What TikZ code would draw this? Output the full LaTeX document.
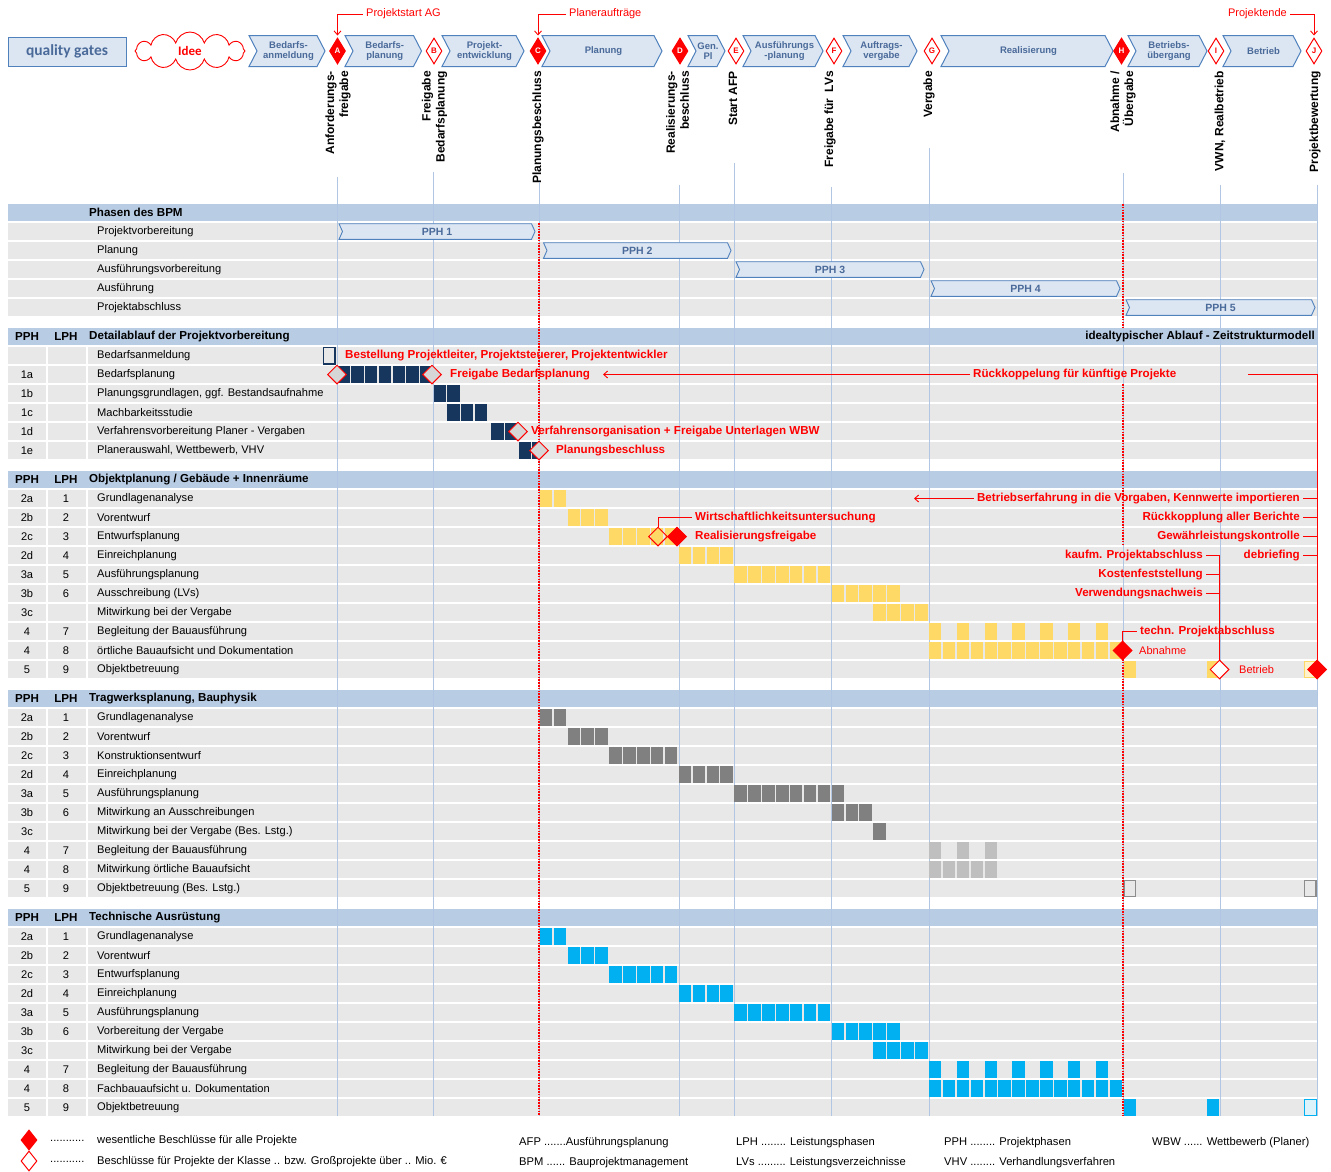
\documentclass[tikz,border=0pt]{standalone}
\usepackage{fontspec}
\setmainfont{Liberation Sans}
\newfontfamily\carl{Carlito}
\usetikzlibrary{shapes.geometric,shapes.symbols,arrows.meta}
\definecolor{rowbg}{HTML}{E8E8E8}
\definecolor{hdrbg}{HTML}{B8CCE4}
\definecolor{gridc}{HTML}{B0C6E2}
\definecolor{navy}{HTML}{17365D}
\definecolor{ylw}{HTML}{FFD966}
\definecolor{ylwl}{HTML}{FFF2CC}
\definecolor{dgray}{HTML}{808080}
\definecolor{lgray}{HTML}{BFBFBF}
\definecolor{bgray}{HTML}{8C8C8C}
\definecolor{cyanb}{HTML}{00B0F0}
\definecolor{cyanl}{HTML}{DDF3FC}
\definecolor{chevfill}{HTML}{DCE6F2}
\definecolor{chevline}{HTML}{4F81BD}
\definecolor{chevtext}{HTML}{4A6A9A}
\definecolor{redc}{HTML}{FF0000}
\definecolor{dgfill}{HTML}{D6D6D6}
\newcommand\Sq[3]{\fill[#1] ({539+#2*13.9+0.7},{#3-8.5}) rectangle ({539+#2*13.9+13.2},{#3+8.5});}
\newcommand\Nv[2]{\fill[navy] ({#1+0.7},{#2-8.5}) rectangle ({#1+13},{#2+8.5});}
\newcommand\Chev[4]{%
  \draw[chevline, fill=chevfill, line width=1pt] (#1,35.5) -- ({#2-8},35.5) -- (#2,51) -- ({#2-8},66.5) -- (#1,66.5) -- ({#1+8},51) -- cycle;
  \node[chevt] (#4) at ({(#1+#2)/2+1.5},51) {#3};}
\newcommand\PChev[5]{%
  \draw[chevline, fill=chevfill, line width=0.9pt] (#1,{#3-7.8}) -- ({#2-3.5},{#3-7.8}) -- (#2,#3) -- ({#2-3.5},{#3+7.8}) -- (#1,{#3+7.8}) -- ({#1+3.5},#3) -- cycle;
  \node[pcht] (#5) at ({(#1+#2)/2},#3) {#4};}
\begin{document}
\begin{tikzpicture}[x=1pt,y=-1pt,
  chevt/.style={align=center, inner sep=0pt, text=chevtext, font=\bfseries\fontsize{9.5}{10.5}\selectfont},
  pcht/.style={inner sep=0pt, text=chevtext, font=\bfseries\fontsize{10.5}{12}\selectfont},
  qgd/.style={diamond, minimum width=16pt, minimum height=26pt, inner sep=0pt, line width=1pt, draw=redc, font=\bfseries\fontsize{8}{8}\selectfont},
  qgf/.style={qgd, fill=redc, text=white},
  qgo/.style={qgd, fill=white, text=redc},
  rot/.style={rotate=90, anchor=east, align=right, inner sep=0pt, font=\bfseries\fontsize{12}{14}\selectfont},
  rowt/.style={anchor=west, inner sep=0pt, font=\fontsize{11.1}{13}\selectfont},
  ctr/.style={inner sep=0pt, font=\fontsize{11.1}{13}\selectfont},
  hdrt/.style={anchor=west, inner sep=0pt, font=\bfseries\fontsize{11.6}{13}\selectfont},
  hdrc/.style={inner sep=0pt, font=\bfseries\fontsize{11.6}{13}\selectfont},
  redb/.style={inner xsep=3pt, inner ysep=0pt, text=redc, font=\bfseries\fontsize{11.6}{13}\selectfont},
  redr/.style={inner xsep=3pt, inner ysep=0pt, text=redc, font=\fontsize{11}{13}\selectfont},
  redln/.style={draw=redc, line width=0.9pt},
  redarr/.style={redln, -{Straight Barb[length=4pt,width=7pt]}},
  gridl/.style={draw=gridc, line width=0.8pt},
  reddot/.style={draw=redc, line width=1.1pt, dash pattern=on 1.6pt off 1.2pt},
  dia/.style={diamond, minimum width=19pt, minimum height=19pt, inner sep=0pt, line width=1pt, draw=redc},
  fdia/.style={dia, fill=redc},
  odia/.style={dia, fill=white},
  gdia/.style={dia, fill=dgfill},
  tdia/.style={dia},
  legt/.style={anchor=west, inner sep=0pt, font=\fontsize{11.2}{13}\selectfont}
]
\fill[white] (0,0) rectangle (1331,1171);
\useasboundingbox (0,0) rectangle (1331,1171);

% ---------- top: quality gates ----------
\node[draw=chevline, fill=chevfill, line width=1pt, minimum width=118pt, minimum height=29pt, inner sep=0pt, text=chevtext, font=\carl\bfseries\fontsize{15.5}{17}\selectfont] (qg) at (67,51.5) {quality gates};
\node[cloud, cloud puffs=12, aspect=2.9, draw=redc, fill=white, line width=0.9pt, minimum width=110pt, minimum height=38pt, inner sep=0pt, text=redc, font=\carl\bfseries\fontsize{13}{15}\selectfont] (idee) at (190,51) {Idee};

\Chev{249}{325}{Bedarfs-\\anmeldung}{c1}
\Chev{345}{421.5}{Bedarfs-\\planung}{c2}
\Chev{442}{524}{Projekt-\\entwicklung}{c3}
\Chev{542}{662}{Planung}{c4}
\Chev{688}{725}{Gen.\\Pl}{c5}
\Chev{743}{823}{Ausführungs\\-planung}{c6}
\Chev{843}{917}{Auftrags-\\vergabe}{c7}
\Chev{941}{1113}{Realisierung}{c8}
\Chev{1128}{1207}{Betriebs-\\übergang}{c9}
\Chev{1223}{1301}{Betrieb}{c10}

\node[qgf] (A) at (337.5,51) {A};
\node[qgo] (B) at (434,51) {B};
\node[qgf] (C) at (538,51) {C};
\node[qgf] (D) at (680,51) {D};
\node[qgo] (E) at (736,51) {E};
\node[qgo] (F) at (834,51) {F};
\node[qgo] (G) at (932,51) {G};
\node[qgf] (H) at (1121.5,51) {H};
\node[qgo] (I) at (1216,51) {I};
\node[qgo] (J) at (1314,51) {J};

\node[redr, anchor=west] (psag) at (363,14) {Projektstart AG};
\draw[redarr, shorten >=2pt] (psag.west) -| (A.north);
\node[redr, anchor=west] (plan) at (566,14) {Planeraufträge};
\draw[redarr, shorten >=2pt] (plan.west) -| (C.north);
\node[redr, anchor=east] (pend) at (1290,14) {Projektende};
\draw[redarr, shorten >=2pt] (pend.east) -| (J.north);

\node[rot] (lA) at (338,71) {Anforderungs-\\freigabe};
\node[rot] (lB) at (434.5,71) {Freigabe\\Bedarfsplanung};
\node[rot] (lC) at (538,71) {Planungsbeschluss};
\node[rot] (lD) at (677.5,71) {Realisierungs-\\beschluss};
\node[rot] (lE) at (733,71) {Start AFP};
\node[rot] (lF) at (830,71) {Freigabe für\enspace LVs};
\node[rot] (lG) at (929,71) {Vergabe};
\node[rot] (lH) at (1123,71) {Abnahme /\\Übergabe};
\node[rot] (lI) at (1220,71) {VWN, Realbetrieb};
\node[rot] (lJ) at (1315,71) {Projektbewertung};

% ---------- bands ----------
\foreach \hc/\n/\cols in {212.5/5/0, 336.5/6/1, 479.5/10/1, 698.5/10/1, 917.5/10/1} {
  \fill[hdrbg] (8,{\hc-8.7}) rectangle (1318,{\hc+8.7});
  \foreach \k in {1,...,\n} {
    \fill[rowbg] (8,{\hc+19*\k-8.7}) rectangle (1318,{\hc+19*\k+8.7});
    \ifnum\cols=1
      \fill[white] (46.3,{\hc+19*\k-8.7}) rectangle (47.7,{\hc+19*\k+8.7});
      \fill[white] (86.3,{\hc+19*\k-8.7}) rectangle (87.7,{\hc+19*\k+8.7});
    \fi
  }
}

% ---------- grid lines ----------
\foreach \x/\t in {337/177,433/172,539/182,679/185,734/163,831/187,929/148,1123/173,1220/185,1317/185}
  \draw[gridl] (\x,\t) -- (\x,1116);

% ---------- section 1 ----------
\node[hdrt] (s1h) at (89,212.5) {Phasen des BPM};
\foreach \i/\t in {1/Projektvorbereitung,2/Planung,3/Ausführungsvorbereitung,4/Ausführung,5/Projektabschluss}
  \node[rowt] (s1r\i) at (97,{212.5+19*\i}) {\t};
\PChev{339}{535}{231.5}{PPH 1}{p1}
\PChev{543.5}{731}{250.5}{PPH 2}{p2}
\PChev{736}{924}{269.5}{PPH 3}{p3}
\PChev{931}{1120}{288.5}{PPH 4}{p4}
\PChev{1126}{1315}{307.5}{PPH 5}{p5}

% ---------- section 2 ----------
\node[hdrc] (s2p) at (27,336.5) {PPH};
\node[hdrc] (s2l) at (66,336.5) {LPH};
\node[hdrt] (s2t) at (89,336.5) {Detailablauf der Projektvorbereitung};
\node[hdrc, anchor=east] (s2ideal) at (1315,336.5) {idealtypischer Ablauf - Zeitstrukturmodell};
\foreach \i/\a/\t in {1//Bedarfsanmeldung, 2/1a/Bedarfsplanung, 3/1b/{Planungsgrundlagen, ggf. Bestandsaufnahme}, 4/1c/Machbarkeitsstudie, 5/1d/Verfahrensvorbereitung Planer - Vergaben, 6/1e/{Planerauswahl, Wettbewerb, VHV}} {
  \node[ctr] (s2a\i) at (27,{336.5+19*\i}) {\a};
  \node[rowt] (s2r\i) at (97,{336.5+19*\i}) {\t};
}

% ---------- section 3 ----------
\node[hdrc] (s3p) at (27,479.5) {PPH};
\node[hdrc] (s3l) at (66,479.5) {LPH};
\node[hdrt] (s3t) at (89,479.5) {Objektplanung / Gebäude + Innenräume};
\foreach \i/\a/\b/\t in {1/2a/1/Grundlagenanalyse, 2/2b/2/Vorentwurf, 3/2c/3/Entwurfsplanung, 4/2d/4/Einreichplanung, 5/3a/5/Ausführungsplanung, 6/3b/6/Ausschreibung (LVs), 7/3c//Mitwirkung bei der Vergabe, 8/4/7/Begleitung der Bauausführung, 9/4/8/örtliche Bauaufsicht und Dokumentation, 10/5/9/Objektbetreuung} {
  \node[ctr] (s3a\i) at (27,{479.5+19*\i}) {\a};
  \node[ctr] (s3b\i) at (66,{479.5+19*\i}) {\b};
  \node[rowt] (s3r\i) at (97,{479.5+19*\i}) {\t};
}

% ---------- section 4 ----------
\node[hdrc] (s4p) at (27,698.5) {PPH};
\node[hdrc] (s4l) at (66,698.5) {LPH};
\node[hdrt] (s4t) at (89,698.5) {Tragwerksplanung, Bauphysik};
\foreach \i/\a/\b/\t in {1/2a/1/Grundlagenanalyse, 2/2b/2/Vorentwurf, 3/2c/3/Konstruktionsentwurf, 4/2d/4/Einreichplanung, 5/3a/5/Ausführungsplanung, 6/3b/6/Mitwirkung an Ausschreibungen, 7/3c//Mitwirkung bei der Vergabe (Bes. Lstg.), 8/4/7/Begleitung der Bauausführung, 9/4/8/Mitwirkung örtliche Bauaufsicht, 10/5/9/Objektbetreuung (Bes. Lstg.)} {
  \node[ctr] (s4a\i) at (27,{698.5+19*\i}) {\a};
  \node[ctr] (s4b\i) at (66,{698.5+19*\i}) {\b};
  \node[rowt] (s4r\i) at (97,{698.5+19*\i}) {\t};
}

% ---------- section 5 ----------
\node[hdrc] (s5p) at (27,917.5) {PPH};
\node[hdrc] (s5l) at (66,917.5) {LPH};
\node[hdrt] (s5t) at (89,917.5) {Technische Ausrüstung};
\foreach \i/\a/\b/\t in {1/2a/1/Grundlagenanalyse, 2/2b/2/Vorentwurf, 3/2c/3/Entwurfsplanung, 4/2d/4/Einreichplanung, 5/3a/5/Ausführungsplanung, 6/3b/6/Vorbereitung der Vergabe, 7/3c//Mitwirkung bei der Vergabe, 8/4/7/Begleitung der Bauausführung, 9/4/8/Fachbauaufsicht u. Dokumentation, 10/5/9/Objektbetreuung} {
  \node[ctr] (s5a\i) at (27,{917.5+19*\i}) {\a};
  \node[ctr] (s5b\i) at (66,{917.5+19*\i}) {\b};
  \node[rowt] (s5r\i) at (97,{917.5+19*\i}) {\t};
}

% ---------- blocks section 2 ----------
\draw[navy, fill=rowbg, line width=1.2pt] (323.5,347.5) rectangle (335,364);
\foreach \k in {0,...,6} \Nv{337+\k*13.7}{374.5};
\foreach \x in {433,446.7} \Nv{\x}{393.5};
\foreach \x in {446.7,460.4,474.1} \Nv{\x}{412.5};
\foreach \x in {490.5,504.2} \Nv{\x}{431.5};
\Nv{518}{450.5}
\fill[navy] (532.4,442) rectangle (539,459);

% ---------- blocks section 3 ----------
\foreach \p in {0,1} \Sq{ylw}{\p}{498.5};
\foreach \p in {2,3,4} \Sq{ylw}{\p}{517.5};
\foreach \p in {5,...,9} \Sq{ylw}{\p}{536.5};
\foreach \p in {10,...,13} \Sq{ylw}{\p}{555.5};
\foreach \p in {14,...,20} \Sq{ylw}{\p}{574.5};
\foreach \p in {21,...,25} \Sq{ylw}{\p}{593.5};
\foreach \p in {24,...,27} \Sq{ylw}{\p}{612.5};
\foreach \p in {28,30,...,40} \Sq{ylw}{\p}{631.5};
\foreach \p in {28,...,41} \Sq{ylw}{\p}{650.5};
\foreach \p in {42,48} \Sq{ylw}{\p}{669.5};
\draw[ylw, fill=ylwl, line width=1pt] ({539+55*13.9+1.2},661.5) rectangle ({539+56*13.9-0.7},677.5);

% ---------- blocks section 4 ----------
\foreach \p in {0,1} \Sq{dgray}{\p}{717.5};
\foreach \p in {2,3,4} \Sq{dgray}{\p}{736.5};
\foreach \p in {5,...,9} \Sq{dgray}{\p}{755.5};
\foreach \p in {10,...,13} \Sq{dgray}{\p}{774.5};
\foreach \p in {14,...,21} \Sq{dgray}{\p}{793.5};
\foreach \p in {21,22,23} \Sq{dgray}{\p}{812.5};
\Sq{dgray}{24}{831.5}
\foreach \p in {28,30,32} \Sq{lgray}{\p}{850.5};
\foreach \p in {28,...,32} \Sq{lgray}{\p}{869.5};
\foreach \p in {42,55} \draw[bgray, fill=rowbg, line width=1.3pt] ({539+\p*13.9+1.3},880.5) rectangle ({539+\p*13.9+12.6},896.5);

% ---------- blocks section 5 ----------
\foreach \p in {0,1} \Sq{cyanb}{\p}{936.5};
\foreach \p in {2,3,4} \Sq{cyanb}{\p}{955.5};
\foreach \p in {5,...,9} \Sq{cyanb}{\p}{974.5};
\foreach \p in {10,...,13} \Sq{cyanb}{\p}{993.5};
\foreach \p in {14,...,20} \Sq{cyanb}{\p}{1012.5};
\foreach \p in {21,...,25} \Sq{cyanb}{\p}{1031.5};
\foreach \p in {24,...,27} \Sq{cyanb}{\p}{1050.5};
\foreach \p in {28,30,...,40} \Sq{cyanb}{\p}{1069.5};
\foreach \p in {28,...,41} \Sq{cyanb}{\p}{1088.5};
\foreach \p in {42,48} \Sq{cyanb}{\p}{1107.5};
\draw[cyanb, fill=cyanl, line width=1pt] ({539+55*13.9+1.2},1099.5) rectangle ({539+56*13.9-0.7},1115.5);

% ---------- red dotted milestone lines ----------
\draw[reddot] (539,223) -- (539,1116);
\draw[reddot] (1123,204) -- (1123,328);
\draw[reddot] (1123,384) -- (1123,545);
\draw[reddot] (1123,659) -- (1123,1116);

% ---------- section 2 decisions ----------
\node[gdia] (d1a) at (337,374.5) {};
\node[gdia] (d1b) at (432,374.5) {};
\node[gdia] (d1d) at (518,431.5) {};
\node[gdia] (d1e) at (539,450.5) {};
\node[redb, anchor=west] (t0) at (342,355.5) {Bestellung Projektleiter, Projektsteuerer, Projektentwickler};
\node[redb, anchor=west] (t1a) at (447,374.5) {Freigabe Bedarfsplanung};
\node[redb, anchor=west] (rk) at (970,374.5) {Rückkoppelung für künftige Projekte};
\node[redb, anchor=west] (t1d) at (528,431.5) {Verfahrensorganisation + Freigabe Unterlagen WBW};
\node[redb, anchor=west] (t1e) at (553,450.5) {Planungsbeschluss};
\coordinate (rkend) at (603,374.5);
\draw[redarr] (rk.west) -- (rkend);

% ---------- section 3 decisions ----------
\node[tdia] (wd) at (658,536.5) {};
\node[fdia] (rf) at (677,536.5) {};
\node[fdia] (abn) at (1122.5,650.5) {};
\node[odia] (dI) at (1219.5,669.5) {};
\node[fdia] (dJ) at (1317,669.5) {};

\node[redb, anchor=west] (wu) at (692,517.5) {Wirtschaftlichkeitsuntersuchung};
\draw[redln] (wd.north) |- (wu.west);
\node[redb, anchor=west] (rfg) at (692,536.5) {Realisierungsfreigabe};
\node[redb, anchor=west] (tp) at (1137,631.5) {techn. Projektabschluss};
\draw[redln] (abn.north) |- (tp.west);
\node[redr, anchor=west] (abt) at (1136,650.5) {Abnahme};
\node[redr, anchor=west] (bet) at (1236,669.5) {Betrieb};

\node[redb, anchor=east] (bf) at (1303,498.5) {Betriebserfahrung in die Vorgaben, Kennwerte importieren};
\node[redb, anchor=east] (rb) at (1303,517.5) {Rückkopplung aller Berichte};
\node[redb, anchor=east] (gk) at (1303,536.5) {Gewährleistungskontrolle};
\node[redb, anchor=east] (db) at (1303,555.5) {debriefing};
\node[redb, anchor=east] (kp) at (1206,555.5) {kaufm. Projektabschluss};
\node[redb, anchor=east] (kf) at (1206,574.5) {Kostenfeststellung};
\node[redb, anchor=east] (vn) at (1206,593.5) {Verwendungsnachweis};
\coordinate (bfend) at (914,498.5);
\draw[redarr] (bf.west) -- (bfend);
\coordinate (rkstart) at (1248,374.5);
\draw[redln] (rkstart) -| (dJ.north);
\foreach \n in {bf,rb,gk,db} \draw[redln] (\n.east) -- (\n.east -| dJ.north);
\draw[redln] (kp.east) -- (kp.east -| dI.north) -- (dI.north);
\foreach \n in {kf,vn} \draw[redln] (\n.east) -- (\n.east -| dI.north);

% ---------- legend ----------
\node[fdia, minimum width=16pt, minimum height=20pt] (lg1) at (29,1140) {};
\node[odia, minimum width=16pt, minimum height=20pt] (lg2) at (29,1161) {};
\node[legt] (ld1) at (50,1141) {...........};
\node[legt] (ld2) at (50,1162) {...........};
\node[legt] (lt1) at (97,1141) {wesentliche Beschlüsse für alle Projekte};
\node[legt] (lt2) at (97,1162) {Beschlüsse für Projekte der Klasse .. bzw. Großprojekte über .. Mio. €};
\node[legt] (ab1) at (519,1143) {AFP .......Ausführungsplanung};
\node[legt] (ab2) at (519,1163) {BPM ...... Bauprojektmanagement};
\node[legt] (ab3) at (736,1143) {LPH ........ Leistungsphasen};
\node[legt] (ab4) at (736,1163) {LVs ......... Leistungsverzeichnisse};
\node[legt] (ab5) at (944,1143) {PPH ........ Projektphasen};
\node[legt] (ab6) at (944,1163) {VHV ........ Verhandlungsverfahren};
\node[legt] (ab7) at (1152,1143) {WBW ...... Wettbewerb (Planer)};
\end{tikzpicture}
\end{document}
